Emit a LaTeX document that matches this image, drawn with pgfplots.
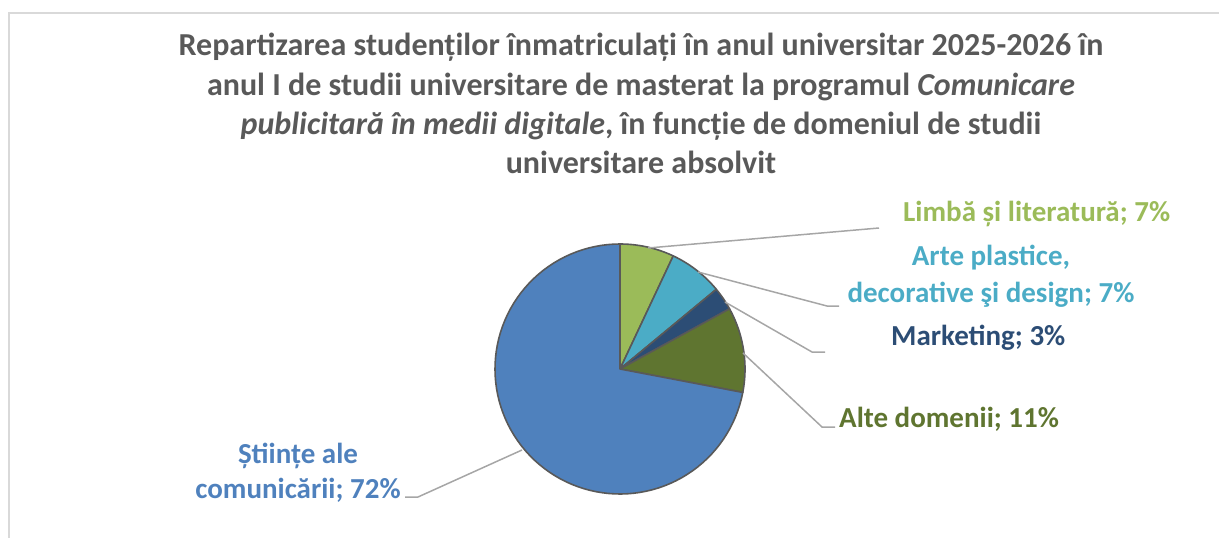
\documentclass[border=0pt]{standalone}
\usepackage{fontspec}
\setmainfont{Carlito}
\usepackage{pgfplots}
\pgfplotsset{compat=1.18}

\definecolor{TitleGray}{HTML}{595959}
\definecolor{PieEdge}{HTML}{595959}
\definecolor{Leader}{HTML}{A6A6A6}
\definecolor{Frame}{HTML}{D9D9D9}
\definecolor{PieBlue}{HTML}{4F81BD}
\definecolor{PieGreen}{HTML}{9BBB59}
\definecolor{PieTeal}{HTML}{4BACC6}
\definecolor{PieNavy}{HTML}{2C4D75}
\definecolor{PieOlive}{HTML}{5F7530}

% slice from cumulative share #1 to #2 (percent), clockwise from 12 o'clock
\newcommand{\pieslice}[3]{%
  \addplot[fill=#3, draw=PieEdge, line width=1.6pt, line join=round,
    domain=3.6*#1:3.6*#2, samples=90, variable=\t]
    ({620+125*sin(\t)}, {369-125*cos(\t)}) -- (axis cs:620,369) -- cycle;}

\begin{document}
\begin{tikzpicture}
\begin{axis}[
  width=1219pt, height=538pt, scale only axis,
  xmin=0, xmax=1219, ymin=0, ymax=538, y dir=reverse,
  hide axis, clip=false
]
  % chart frame
  \addplot[Frame, line width=1.5pt] coordinates {(1219,13) (9,13) (9,538)};

  % shares: Limba si literatura 7, Arte plastice 7, Marketing 3,
  % Alte domenii 11, Stiinte ale comunicarii 72
  \pieslice{0}{7}{PieGreen}
  \pieslice{7}{14}{PieTeal}
  \pieslice{14}{17}{PieNavy}
  \pieslice{17}{28}{PieOlive}
  \pieslice{28}{100}{PieBlue}

  % leader lines
  \addplot[Leader, line width=1.5pt] coordinates {(648,248) (879,228)};
  \addplot[Leader, line width=1.5pt] coordinates {(698,272) (827,306) (839,306)};
  \addplot[Leader, line width=1.5pt] coordinates {(725,302) (812,352) (825,352)};
  \addplot[Leader, line width=1.5pt] coordinates {(743,353) (822,427) (835,427)};
  \addplot[Leader, line width=1.5pt] coordinates {(522,450) (418,497) (405,497)};

  % title
  \begin{scope}[every node/.style={anchor=base, text=TitleGray,
      font=\fontsize{32}{39}\selectfont\bfseries, inner sep=0pt}]
    \node at (axis cs:641,55) {Repartizarea studenților înmatriculați în anul universitar 2025-2026 în};
    \node at (axis cs:641,95) {anul I de studii universitare de masterat la programul \textit{Comunicare}};
    \node at (axis cs:641,134) {\textit{publicitară în medii digitale}, în funcție de domeniul de studii};
    \node at (axis cs:641,173) {universitare absolvit};
  \end{scope}

  % data labels
  \begin{scope}[every node/.style={inner sep=0pt,
      font=\fontsize{29}{35}\selectfont\bfseries}]
    \node[anchor=base west, text=PieGreen] at (axis cs:903,221) {Limbă și literatură; 7\%};
    \node[anchor=base, text=PieTeal] at (axis cs:991,265) {Arte plastice,};
    \node[anchor=base, text=PieTeal] at (axis cs:991,302) {decorative şi design; 7\%};
    \node[anchor=base west, text=PieNavy] at (axis cs:891,345) {Marketing; 3\%};
    \node[anchor=base west, text=PieOlive] at (axis cs:839,427) {Alte domenii; 11\%};
    \node[anchor=base, text=PieBlue] at (axis cs:298,463) {Științe ale};
    \node[anchor=base, text=PieBlue] at (axis cs:298,498) {comunicării; 72\%};
  \end{scope}
\end{axis}
\pgfresetboundingbox
\path (current axis.south west) rectangle (current axis.north east);
\end{tikzpicture}
\end{document}
